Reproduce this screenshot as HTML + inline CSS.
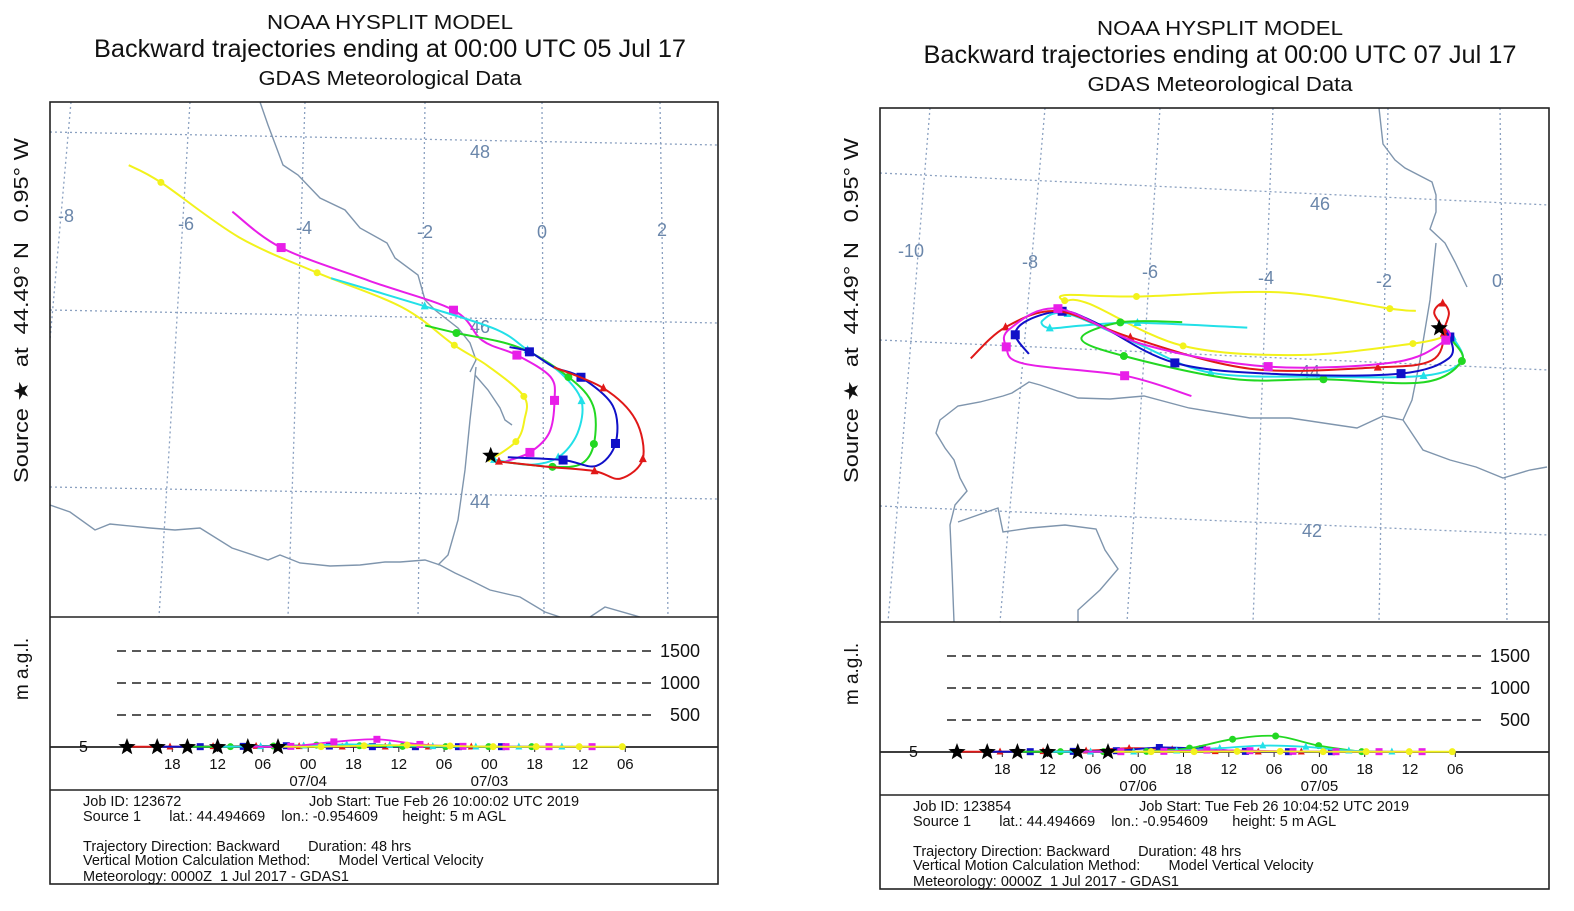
<!DOCTYPE html>
<html><head><meta charset="utf-8"><style>
body{margin:0;background:#fff;width:1574px;height:911px;overflow:hidden}
svg{display:block;font-family:"Liberation Sans",sans-serif}
.pre{white-space:pre}
</style></head><body>
<svg id="c" width="1574" height="911" viewBox="0 0 1574 911"></svg>
<script>
// ===== DATA: left chart (ending 05 Jul 17), lon/lat per trajectory =====
const L_yellow_lon=[-6.88,-6.35,-5.07,-3.78,-2.37,-1.52,-0.97,-0.38,-0.38,-0.53,-1.0];
const L_yellow_lat=[47.74,47.55,46.94,46.55,46.17,45.75,45.52,45.18,44.91,44.66,44.43];
const L_magenta_lon=[-5.17,-4.37,-2.92,-1.52,-1.05,-0.48,0.07,0.13,0.03,-0.3,-0.72];
const L_magenta_lat=[47.23,46.83,46.47,46.15,45.81,45.65,45.41,45.14,44.77,44.54,44.43];
const L_cyan_lon=[-3.55,-2.0,-0.82,-0.3,0.25,0.58,0.5,0.17,-0.3,-0.9];
const L_cyan_lat=[46.49,46.19,45.94,45.71,45.45,45.14,44.77,44.49,44.4,44.45];
const L_green_lon=[-2.0,-1.48,-0.45,0.37,0.77,0.77,0.55,0.07,-0.67];
const L_green_lat=[45.97,45.89,45.74,45.41,45.09,44.65,44.42,44.38,44.42];
const L_blue_lon=[-0.6,-0.27,0.13,0.58,1.1,1.13,0.8,0.25,-0.67];
const L_blue_lat=[45.74,45.69,45.52,45.41,45.09,44.66,44.4,44.46,44.48];
const L_red_lon=[0.13,0.95,1.47,1.58,1.2,0.77,-0.02,-0.82];
const L_red_lat=[45.52,45.29,44.94,44.49,44.26,44.34,44.38,44.43];
// ===== DATA: right chart (ending 07 Jul 17) =====
const R_yellow_lon=[-1.34,-1.78,-3.66,-6.07,-7.25,-7.29,-6.88,-5.31,-3.32,-1.41,-0.88];
const R_yellow_lat=[44.70,44.72,44.89,44.8,44.8,44.73,44.7,44.21,44.13,44.3,44.39];
const R_cyan_lon=[-4.21,-6.07,-7.03,-7.56,-7.68,-7.25,-6.07,-4.86,-3.07,-1.25,-0.59,-0.73];
const R_cyan_lat=[44.45,44.48,44.43,44.39,44.48,44.57,44.22,43.89,43.87,43.91,44.1,44.39];
const R_green_lon=[-5.31,-6.36,-7.03,-6.32,-4.49,-2.95,-1.25,-0.59,-0.73];
const R_green_lat=[44.5,44.48,44.27,44.07,43.82,43.84,43.83,44.1,44.34];
const R_blue_lon=[-7.93,-8.15,-7.93,-7.34,-6.81,-5.46,-3.59,-1.63,-0.81,-0.78,-0.92];
const R_blue_lat=[44.07,44.3,44.48,44.6,44.48,44.0,43.89,43.93,44.13,44.39,44.54];
const R_red_lon=[-8.92,-8.31,-7.41,-6.2,-4.19,-2.02,-1.1,-0.88,-1.03,-0.88,-0.78,-0.88];
const R_red_lat=[44.0,44.39,44.6,44.3,43.95,44.0,44.1,44.43,44.68,44.8,44.68,44.48];
const R_magenta_lon=[-5.2,-6.32,-8.02,-8.31,-8.24,-7.41,-5.95,-3.88,-1.71,-0.85,-0.81];
const R_magenta_lat=[43.6,43.83,43.95,44.15,44.37,44.63,44.21,43.98,44.07,44.35,44.48];
// ===== vertical profiles (m AGL every 6 h from start) =====
const startHours=[0,4,8,12,16,20];
const L_heights_red=[5,5,10,15,10,5,5,5,5];
const L_heights_blue=[5,5,10,20,15,5,5,5,5];
const L_heights_green=[5,5,15,30,20,10,5,5,5];
const L_heights_cyan=[5,10,20,40,30,10,5,5,5];
const L_heights_magenta=[5,10,80,120,40,10,5,5,5];
const L_heights_yellow=[5,5,20,30,15,5,5,5,5];
const R_heights_red=[5,5,10,20,60,40,10,5,5];
const R_heights_blue=[5,5,10,20,70,50,10,5,5];
const R_heights_green=[5,5,5,10,60,200,250,100,5];
const R_heights_cyan=[5,5,5,20,60,100,80,20,5];
const R_heights_magenta=[5,5,10,30,20,10,5,5,5];
const R_heights_yellow=[5,5,5,10,10,5,5,5,5];
const timeTicks=["18","12","06","00","18","12","06","00","18","12","06"];
const levelTicks=[500,1000,1500];
const latTicksL=[44,46,48], lonTicksL=[-8,-6,-4,-2,0,2];
const latTicksR=[42,44,46], lonTicksR=[-10,-8,-6,-4,-2,0];

const NS="http://www.w3.org/2000/svg";
const svg=document.getElementById('c');
function mk(tag,attrs,parent){const e=document.createElementNS(NS,tag);for(const k in attrs)e.setAttribute(k,attrs[k]);(parent||svg).appendChild(e);return e;}
function txt(s,x,y,size,attrs,parent){const e=mk('text',Object.assign({x:x,y:y,'font-size':size,fill:'#111'},attrs||{}),parent);e.textContent=s;return e;}

const colors={yellow:'#f2f21c',magenta:'#e81ee8',cyan:'#22e0e8',green:'#22d822',blue:'#1010c8',red:'#e01818'};
const shapes={yellow:'circle',magenta:'square',cyan:'tri',green:'circle',blue:'square',red:'tri'};
const markerSize={yellow:3.5,magenta:4.5,cyan:4,green:4,blue:4.5,red:4};

function marker(g,kind,x,y,s,c){
  if(kind==='circle')return mk('circle',{cx:x,cy:y,r:s,fill:c},g);
  if(kind==='square')return mk('rect',{x:x-s,y:y-s,width:2*s,height:2*s,fill:c},g);
  return mk('polygon',{points:`${x},${y-s*1.2} ${x-s},${y+s*0.8} ${x+s},${y+s*0.8}`,fill:c},g);
}
function star(g,x,y,r){let p=[];for(let i=0;i<10;i++){const a=-Math.PI/2+i*Math.PI/5;const rr=i%2?r*0.42:r;p.push((x+rr*Math.cos(a)).toFixed(1)+','+(y+rr*Math.sin(a)).toFixed(1));}return mk('polygon',{points:p.join(' '),fill:'#000'},g);}

function smoothPath(pts){
  let d=`M${pts[0][0]},${pts[0][1]}`;
  for(let i=0;i<pts.length-1;i++){
    const p0=pts[Math.max(0,i-1)],p1=pts[i],p2=pts[i+1],p3=pts[Math.min(pts.length-1,i+2)];
    const c1=[p1[0]+(p2[0]-p0[0])/6,p1[1]+(p2[1]-p0[1])/6],c2=[p2[0]-(p3[0]-p1[0])/6,p2[1]-(p3[1]-p1[1])/6];
    d+=` C${c1[0].toFixed(1)},${c1[1].toFixed(1)} ${c2[0].toFixed(1)},${c2[1].toFixed(1)} ${p2[0].toFixed(1)},${p2[1].toFixed(1)}`;
  }
  return d;
}

function panel(cfg){
  const P=mk('g',{},svg);
  
  
  const t1=txt('NOAA HYSPLIT MODEL',cfg.tx,cfg.ty[0],20,{'text-anchor':'middle',textLength:cfg.tw[0],lengthAdjust:'spacingAndGlyphs'},P);
  
  const t2=txt('Backward trajectories ending at 00:00 UTC '+cfg.date,cfg.tx,cfg.ty[1],25,{'text-anchor':'middle',textLength:cfg.tw[1],lengthAdjust:'spacingAndGlyphs'},P);
  
  const t3=txt('GDAS Meteorological Data',cfg.tx,cfg.ty[2],20,{'text-anchor':'middle',textLength:cfg.tw[2],lengthAdjust:'spacingAndGlyphs'},P);
  
  const sx=cfg.fx0-22, sy=(cfg.sideY[0]+cfg.sideY[1])/2;
  const sl=txt('Source \u2605  at  44.49\u00b0 N   0.95\u00b0 W',sx+7,sy,20,{'class':'pre','text-anchor':'middle',transform:`rotate(-90 ${sx} ${sy})`,textLength:cfg.sideY[1]-cfg.sideY[0],lengthAdjust:'spacingAndGlyphs'},P);
  
  const my=(cfg.fy1+cfg.zeroY)/2-6;
  const ml=txt('m a.g.l.',sx+7,my,19,{'text-anchor':'middle',transform:`rotate(-90 ${sx} ${my})`},P);
  

  const M=mk('g',{},P);
  
  const clip=mk('clipPath',{id:cfg.id+'clip'},P);
  mk('rect',{x:cfg.fx0,y:cfg.fy0,width:cfg.fx1-cfg.fx0,height:cfg.fy1-cfg.fy0},clip);
  M.setAttribute('clip-path',`url(#${cfg.id}clip)`);
  cfg.latLines.forEach((l,i)=>{
    const e=mk('line',{x1:cfg.fx0,y1:l[0],x2:cfg.fx1,y2:l[1],stroke:'#8aa0c0','stroke-width':1.3,'stroke-dasharray':'2 3'},M);
    
  });
  cfg.lonLines.forEach(l=>{
    const e=mk('line',{x1:l[0],y1:cfg.fy0,x2:l[1],y2:l[2]||cfg.fy1,stroke:'#8aa0c0','stroke-width':1.3,'stroke-dasharray':'2 3'},M);
    
  });
  cfg.coast.forEach(c=>{
    const e=mk('polyline',{points:c.map(p=>p.join(',')).join(' '),fill:'none',stroke:'#7f95ad','stroke-width':1.4},M);
    
  });
  cfg.latLabels.forEach((v,i)=>{const e=txt(String(v),cfg.latLabPos[i][0],cfg.latLabPos[i][1],18,{fill:'#6a86aa'},M);});
  cfg.lonLabels.forEach((v,i)=>{const e=txt(String(v),cfg.lonLabPos[i][0],cfg.lonLabPos[i][1],18,{fill:'#6a86aa'},M);});
  cfg.traj.forEach(t=>{
    const pts=t.lon.map((lo,i)=>cfg.proj(lo,t.lat[i]));
    const g=mk('g',{},M);
    
    mk('path',{d:smoothPath(pts),fill:'none',stroke:colors[t.name],'stroke-width':2},g);
    pts.forEach((p,i)=>{if(i%2===1)marker(g,shapes[t.name],p[0],p[1],markerSize[t.name],colors[t.name]);});
  });
  const sp=cfg.proj(-0.954609,44.494669);
  const st=star(M,sp[0],sp[1],9);
  mk('rect',{x:cfg.fx0,y:cfg.fy0,width:cfg.fx1-cfg.fx0,height:cfg.by1-cfg.fy0,fill:'none',stroke:'#222','stroke-width':1.6},P);
  mk('line',{x1:cfg.fx0,y1:cfg.fy1,x2:cfg.fx1,y2:cfg.fy1,stroke:'#222','stroke-width':1.6},P);
  mk('line',{x1:cfg.fx0,y1:cfg.sepY,x2:cfg.fx1,y2:cfg.sepY,stroke:'#222','stroke-width':1.6},P);

  const V=mk('g',{},P);
  
  const hx=h=>cfg.h0x+h*cfg.pxPerHour, hy=m=>cfg.zeroY-m*0.064;
  levelTicks.forEach(lv=>{
    const y=hy(lv);
    const e=mk('line',{x1:cfg.h0x-10,y1:y,x2:cfg.h0x+526,y2:y,stroke:'#222','stroke-width':1.4,'stroke-dasharray':'9 6'},V);
    
    const l=txt(String(lv),cfg.h0x+573,y+6,18,{'text-anchor':'end'},V);
  });
  mk('line',{x1:cfg.fx0,y1:cfg.zeroY,x2:cfg.fx1,y2:cfg.zeroY,stroke:'#222','stroke-width':1.8},V);
  txt('5',cfg.fx0+29,cfg.zeroY+5,16,{},V);
  timeTicks.forEach((tk,i)=>{
    const x=hx(6*(i+1));
    mk('line',{x1:x,y1:cfg.zeroY,x2:x,y2:cfg.zeroY+5,stroke:'#222'},V);
    const e=txt(tk,x,cfg.zeroY+22,15,{'text-anchor':'middle'},V);
  });
  cfg.dates.forEach((d,i)=>{const e=txt(d,hx(24*(i+1)),cfg.zeroY+39,15,{'text-anchor':'middle'},V);});
  cfg.heights.forEach((s,si)=>{
    const h0=startHours[si];
    const pts=s.h.map((m,i)=>[hx(h0+5.7*i),hy(m)]);
    const g=mk('g',{},V);
    
    mk('path',{d:smoothPath(pts),fill:'none',stroke:colors[s.name],'stroke-width':1.8},g);
    pts.forEach((p,i)=>{if(i>0)marker(g,shapes[s.name],p[0],p[1],3.5,colors[s.name]);});
  });
  startHours.forEach(h=>{const e=star(V,hx(h),cfg.zeroY,9);});

  const I=mk('g',{},P);
  
  const ix=cfg.fx0+33, iy=cfg.sepY;
  const lines=[[`Job ID: ${cfg.job}`,ix,iy+16],[`Job Start: Tue Feb 26 ${cfg.jobStart} UTC 2019`,ix+226,iy+16],
    ['Source 1       lat.: 44.494669    lon.: -0.954609      height: 5 m AGL',ix,iy+31],
    ['Trajectory Direction: Backward       Duration: 48 hrs',ix,iy+61],
    ['Vertical Motion Calculation Method:       Model Vertical Velocity',ix,iy+75],
    ['Meteorology: 0000Z  1 Jul 2017 - GDAS1',ix,iy+91]];
  lines.forEach(l=>txt(l[0],l[1],l[2],14.5,{'class':'pre'},I));
}

panel({id:'left',date:'05 Jul 17',tx:390,ty:[29,57,85],tw:[246,592,263],
  fx0:50,fx1:718,fy0:102,fy1:617,sepY:790,by1:884,zeroY:747,h0x:127,pxPerHour:7.55,sideY:[145,490],
  dates:['07/04','07/03'],job:'123672',jobStart:'10:00:02',
  proj:(lo,la)=>[545+60*lo+(la-46)*-2,500-87.5*(la-44)+(lo)*1.1],
  latLines:[[132,145],[310,323],[487,499]],
  lonLines:[[71,50,340],[190,159],[305,288],[425,418],[542,544],[660,668]],
  latLabels:latTicksL,latLabPos:[[470,508],[470,333],[470,158]],
  lonLabels:lonTicksL,lonLabPos:[[58,222],[178,230],[296,234],[417,238],[537,238],[657,236]],
  coast:[[[260,102],[268,125],[283,165],[298,175],[320,198],[345,210],[360,228],[387,243],[395,258],[418,275],[425,300],[435,310],[458,328],[470,343],[476,360],[470,372]],
         [[476,367],[470,420],[465,470],[458,520],[448,555],[438,565]],
         [[475,375],[488,390],[500,408],[505,420],[512,425]],
         [[50,505],[70,512],[95,530],[110,524],[150,528],[175,530],[200,528],[232,548],[268,560],[280,555],[300,563],[330,566],[360,565],[385,562],[400,562],[425,560],[440,565],[455,573],[470,580],[490,590],[520,597],[545,612],[560,617]],
         [[590,617],[605,607],[640,617]]],
  traj:[{name:'yellow',lon:L_yellow_lon,lat:L_yellow_lat},{name:'magenta',lon:L_magenta_lon,lat:L_magenta_lat},
        {name:'cyan',lon:L_cyan_lon,lat:L_cyan_lat},{name:'green',lon:L_green_lon,lat:L_green_lat},
        {name:'blue',lon:L_blue_lon,lat:L_blue_lat},{name:'red',lon:L_red_lon,lat:L_red_lat}],
  heights:[{name:'red',h:L_heights_red},{name:'blue',h:L_heights_blue},{name:'green',h:L_heights_green},
           {name:'cyan',h:L_heights_cyan},{name:'magenta',h:L_heights_magenta},{name:'yellow',h:L_heights_yellow}]
});
panel({id:'right',date:'07 Jul 17',tx:1220,ty:[35,63,91],tw:[246,593,265],
  fx0:880,fx1:1549,fy0:108,fy1:622,sepY:795,by1:889,zeroY:752,h0x:957,pxPerHour:7.55,sideY:[145,490],
  dates:['07/06','07/05'],job:'123854',jobStart:'10:04:52',
  proj:(lo,la)=>[1497+59*lo+(la-44)*-3,370-82*(la-44)+lo*1.3],
  latLines:[[173,205],[340,370],[506,535]],
  lonLines:[[930,888],[1045,1000],[1160,1127],[1273,1253],[1388,1379],[1500,1507]],
  latLabels:latTicksR,latLabPos:[[1302,537],[1300,378],[1310,210]],
  lonLabels:lonTicksR,lonLabPos:[[898,257],[1022,268],[1142,278],[1258,284],[1376,287],[1492,287]],
  coast:[[[1379,108],[1383,144],[1395,160],[1405,168],[1432,182],[1436,195],[1436,212],[1430,229],[1445,243],[1455,262],[1467,287]],
         [[1436,243],[1430,300],[1420,360],[1412,400],[1403,420]],
         [[1403,420],[1383,416],[1357,428],[1330,424],[1290,418],[1250,418],[1189,408],[1144,396],[1110,399],[1078,398],[1040,385],[1029,382],[1012,393],[1003,396],[980,402],[958,406],[940,420],[936,433],[945,448],[954,460],[960,478],[967,491],[955,505],[950,525],[952,570],[954,622]],
         [[1403,420],[1423,450],[1450,460],[1476,467],[1503,478],[1530,470],[1547,467]],
         [[958,522],[998,508],[1003,532],[1030,528],[1065,525],[1096,529],[1105,550],[1118,569],[1100,590],[1078,610],[1078,622]]],
  traj:[{name:'yellow',lon:R_yellow_lon,lat:R_yellow_lat},{name:'cyan',lon:R_cyan_lon,lat:R_cyan_lat},
        {name:'green',lon:R_green_lon,lat:R_green_lat},{name:'blue',lon:R_blue_lon,lat:R_blue_lat},
        {name:'red',lon:R_red_lon,lat:R_red_lat},{name:'magenta',lon:R_magenta_lon,lat:R_magenta_lat}],
  heights:[{name:'red',h:R_heights_red},{name:'blue',h:R_heights_blue},{name:'green',h:R_heights_green},
           {name:'cyan',h:R_heights_cyan},{name:'magenta',h:R_heights_magenta},{name:'yellow',h:R_heights_yellow}]
});
</script>
</body></html>
